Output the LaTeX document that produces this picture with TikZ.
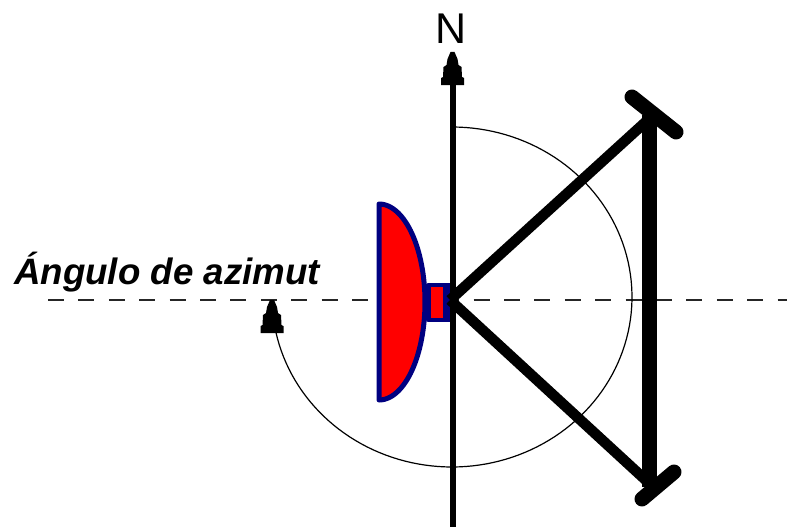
\documentclass[tikz,border=0pt]{standalone}
\usepackage{fontspec}
\setmainfont{Liberation Sans}
\definecolor{dishblue}{RGB}{0,0,128}
\tikzset{
  x=1pt,y=-1pt,
  dishpart/.style={draw=dishblue,fill=red,line width=5pt,line join=round},
  mount/.style={draw=black,line width=15pt,line cap=round},
  strut/.style={draw=black,line width=10.5pt},
  steparrow/.pic={\fill[black] (-2,0) -- (2,0) -- (5,7) -- (6,13) -- (9,15) -- (9.5,25) -- (11.5,26) -- (11.5,33) -- (-11.5,33) -- (-11.5,26) -- (-9.5,25) -- (-9,15) -- (-6,13) -- (-5,7) -- cycle;}
}
\begin{document}
\begin{tikzpicture}
\useasboundingbox (0,0) rectangle (787,527);
\fill[white] (0,0) rectangle (787,527);
\coordinate (west) at (48,300);
\coordinate (east) at (787,300);
\coordinate (south) at (452.5,527);
\coordinate (north) at (452.5,84);
\coordinate (hub) at (450,300);
\coordinate (tl) at (632,97);
\coordinate (tr) at (676,132);
\coordinate (tm) at (650,118);
\coordinate (bl) at (642,499);
\coordinate (br) at (674,472);
\coordinate (bm) at (650,484);
\draw[line width=2pt,black!85,dash pattern=on 16pt off 14.4pt] (west) -- (east);
\draw[line width=1.2pt] plot[domain=-90:168,samples=120] ({452+180*cos(\x)},{297+170*sin(\x)});
\draw[line width=6pt] (south) -- (north);
\pic at (452.5,52) {steparrow};
\pic at (272,300) {steparrow};
\draw[dishpart] (379,204) plot[domain=-90:90,samples=80] ({379+46*cos(\x)},{302+98*sin(\x)}) -- cycle;
\draw[dishpart,line width=4.5pt] (428.5,285) rectangle (445,320);
\fill[dishblue] (442.5,282.75) rectangle (450,322.25);
\draw[strut] (hub) -- (tm);
\draw[strut] (hub) -- (bm);
\draw[draw=black,line width=15pt] (649,115) -- (649,487);
\draw[mount] (tl) -- (tr);
\draw[mount] (bl) -- (br);
\node[anchor=base west,inner sep=0pt,font=\fontsize{36.7}{36.7}\selectfont\bfseries\itshape] (label) at (14,284) {Ángulo de azimut};
\node[anchor=base,inner sep=0pt,font=\fontsize{43}{43}\selectfont] (nlabel) at (451,44) {N};
\end{tikzpicture}
\end{document}
